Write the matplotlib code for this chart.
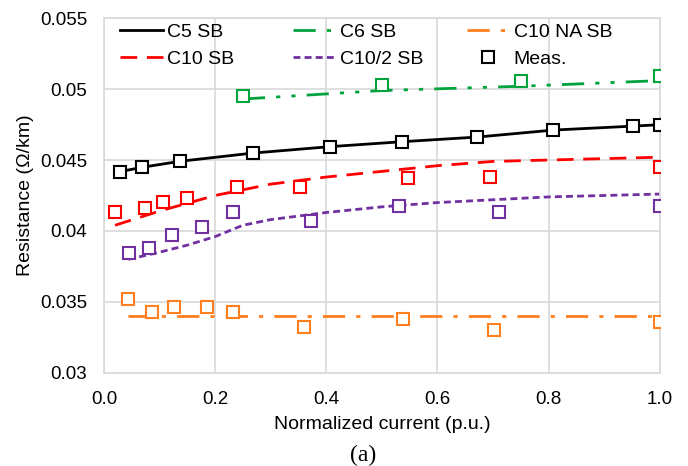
import matplotlib.pyplot as plt
from matplotlib.lines import Line2D

plt.rcParams['font.family'] = ['Liberation Sans', 'DejaVu Sans']

# model curves
c5_x = [0.029, 0.069, 0.137, 0.268, 0.406, 0.536, 0.672, 0.808, 0.952, 1.0]
c5_y = [0.04418, 0.04449, 0.04491, 0.04549, 0.04594, 0.04629, 0.04662, 0.04711, 0.04739, 0.04749]
c6_x = [0.25, 0.5, 0.75, 1.0]
c6_y = [0.0493, 0.0499, 0.0502, 0.0506]
c10_x = [0.02, 0.1, 0.2, 0.3, 0.4, 0.5, 0.6, 0.7, 0.8, 0.9, 1.0]
c10_y = [0.0404, 0.0414, 0.0425, 0.0433, 0.0438, 0.0442, 0.0446, 0.0449, 0.0450, 0.0451, 0.0452]
c10h_x = [0.044, 0.1, 0.15, 0.2, 0.25, 0.3, 0.4, 0.5, 0.6, 0.7, 0.8, 0.9, 1.0]
c10h_y = [0.0380, 0.0385, 0.0390, 0.0396, 0.0404, 0.0408, 0.0413, 0.0417, 0.0420, 0.0422, 0.0424, 0.0425, 0.0426]
c10na_x = [0.043, 1.0]
c10na_y = [0.0340, 0.0340]

# measurements
m_c5_x, m_c5_y = c5_x, c5_y
m_c6_x = [0.251, 0.50, 0.751, 1.0]
m_c6_y = [0.04953, 0.05026, 0.05056, 0.05089]
m_c10_x = [0.02, 0.074, 0.106, 0.150, 0.240, 0.353, 0.547, 0.694, 1.0]
m_c10_y = [0.04132, 0.04160, 0.04206, 0.04230, 0.04312, 0.04308, 0.04371, 0.04383, 0.04449]
m_c10h_x = [0.045, 0.081, 0.122, 0.176, 0.233, 0.372, 0.531, 0.710, 1.0]
m_c10h_y = [0.03843, 0.03878, 0.03972, 0.0403, 0.04132, 0.04073, 0.04176, 0.04136, 0.04176]
m_c10na_x = [0.044, 0.086, 0.126, 0.185, 0.233, 0.360, 0.538, 0.701, 1.0]
m_c10na_y = [0.03519, 0.03432, 0.03467, 0.03467, 0.03432, 0.03326, 0.03378, 0.03303, 0.03357]

black = 'black'
green = '#00A33C'
red = '#FF0000'
purple = '#7030A0'
orange = '#FF7F1E'

fig = plt.figure(figsize=(6.88, 4.66), dpi=100)
ax = fig.add_axes([0.151, 0.200, 0.808, 0.761])

lw = 2.0
h_c5, = ax.plot(c5_x, c5_y, color=black, lw=lw)
h_c6, = ax.plot(c6_x, c6_y, color=green, lw=lw, dashes=[8, 4, 1.5, 4, 1.5, 4])
h_c10, = ax.plot(c10_x, c10_y, color=red, lw=lw, dashes=[6, 3.5])
h_c10h, = ax.plot(c10h_x, c10h_y, color=purple, lw=lw, dashes=[2.5, 1.5])
h_na, = ax.plot(c10na_x, c10na_y, color=orange, lw=lw, dashes=[8, 4, 1.5, 4])

ms = 8
mew = 1.5
for mx, my, c in [(m_c5_x, m_c5_y, black), (m_c6_x, m_c6_y, green), (m_c10_x, m_c10_y, red),
                  (m_c10h_x, m_c10h_y, purple), (m_c10na_x, m_c10na_y, orange)]:
    ax.plot(mx, my, ls='none', marker='s', ms=ms, mfc='white', mec=c, mew=mew, zorder=3)

h_meas = Line2D([], [], ls='none', marker='s', ms=ms, mfc='white', mec=black, mew=mew)

ax.set_xlim(0, 1.0)
ax.set_ylim(0.03, 0.055)
ax.set_xticks([0, 0.2, 0.4, 0.6, 0.8, 1.0])
ax.set_xticklabels(['0.0', '0.2', '0.4', '0.6', '0.8', '1.0'])
ax.set_yticks([0.03, 0.035, 0.04, 0.045, 0.05, 0.055])
ax.set_yticklabels(['0.03', '0.035', '0.04', '0.045', '0.05', '0.055'])
ax.tick_params(length=0, labelsize=13.5)
ax.tick_params(axis='y', pad=12)
ax.tick_params(axis='x', pad=13)
ax.grid(color='#D9D9D9', lw=1.2)
ax.set_axisbelow(True)
for s in ax.spines.values():
    s.set_color('#D9D9D9')
    s.set_linewidth(1.2)

ax.set_xlabel('Normalized current (p.u.)', fontsize=14, labelpad=6)
ax.set_ylabel('Resistance (\u03a9/km)', fontsize=14, labelpad=4)

# legend: three columns placed like the original
cols = [([h_c5, h_c10], ['C5 SB', 'C10 SB'], 120),
        ([h_c6, h_c10h], ['C6 SB', 'C10/2 SB'], 293),
        ([h_na, h_meas], ['C10 NA SB', 'Meas.'], 467)]
for hs, labs, px in cols:
    leg = fig.legend(hs, labs, loc='upper left', bbox_to_anchor=(px / 688, 1 - 23 / 466),
                     frameon=False, fontsize=14, handlelength=2.2, handletextpad=0.2,
                     labelspacing=0.5, borderpad=0, borderaxespad=0)

fig.text(363 / 688, 1 - 455 / 466, '(a)', ha='center', va='center', fontsize=17,
         family='Liberation Serif')

fig.savefig('out.png', dpi=100)
